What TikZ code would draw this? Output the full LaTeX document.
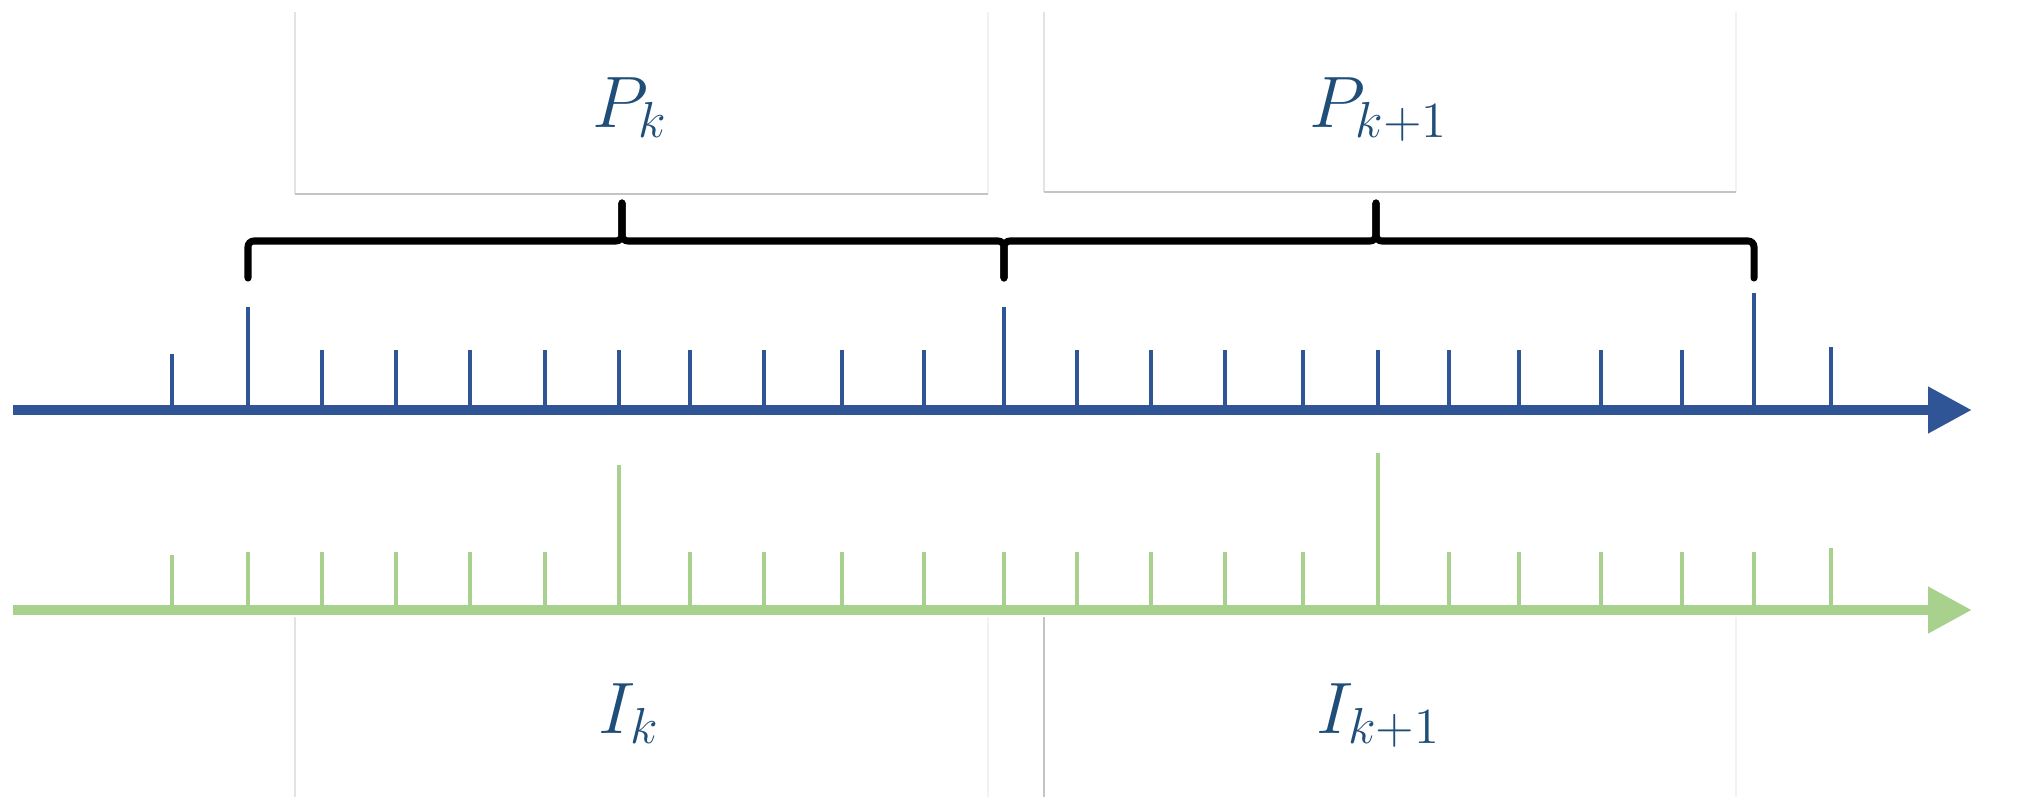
\documentclass[tikz,border=0pt]{standalone}
\usepackage{amsmath}
\usepackage{tikz}
\usetikzlibrary{arrows.meta}
\definecolor{axis-blue}{RGB}{47,85,151}
\definecolor{axis-green}{RGB}{169,209,142}
\definecolor{label-blue}{RGB}{31,78,121}
\definecolor{box-faint}{gray}{0.95}
\definecolor{box-side}{gray}{0.89}
\definecolor{box-base}{gray}{0.77}

\tikzset{
  axisline/.style={line width=3pt, -{Triangle[length=12.5pt,width=12.5pt]}},
  tickline/.style={line width=1.4pt},
  braceline/.style={line width=2pt, rounded corners=0.6mm, line cap=round},
  periodlabel/.style={text=label-blue, inner sep=0pt, anchor=base, font=\fontsize{20}{24}\selectfont}
}
% brace over one period: left end, tip, right end
\newcommand{\periodbrace}[3]{
  \draw[braceline] (#1,27.8) -- (#1,24.1) -- (#2,24.1) -- (#2,20.3);
  \draw[braceline] (#2,20.3) -- (#2,24.1) -- (#3,24.1) -- (#3,27.8);
}

\begin{document}
\begin{tikzpicture}[x=1mm, y=-1mm]
 \useasboundingbox (0,0) rectangle (201.8,80.8);
 %boxes
 \draw[box-side, line width=0.4pt] (29.5,1.2) -- (29.5,19.4);
 \draw[box-faint, line width=0.4pt] (98.8,1.2) -- (98.8,19.4);
 \draw[box-side, line width=0.4pt] (104.4,1.2) -- (104.4,19.2);
 \draw[box-faint, line width=0.4pt] (173.6,1.2) -- (173.6,19.2);
 \draw[box-base, line width=0.6pt] (29.5,19.4) -- (98.8,19.4);
 \draw[box-base, line width=0.6pt] (104.4,19.2) -- (173.6,19.2);
 \draw[box-side, line width=0.4pt] (29.5,61.7) -- (29.5,79.7);
 \draw[box-faint, line width=0.4pt] (98.8,61.7) -- (98.8,79.7);
 \draw[box-base, line width=0.5pt] (104.4,61.7) -- (104.4,79.7);
 \draw[box-faint, line width=0.4pt] (173.6,61.7) -- (173.6,79.7);
 \node[periodlabel] (pk) at (63.0,12.7) {$P_k$};
 \node[periodlabel] (pk1) at (137.9,12.7) {$P_{k+1}$};
 \node[periodlabel] (ik) at (62.9,73.3) {$I_k$};
 \node[periodlabel] (ik1) at (137.9,73.3) {$I_{k+1}$};
 %braces
 \periodbrace{24.8}{62.2}{100.4}
 \periodbrace{100.4}{137.6}{175.4}
 %blue axis
 \foreach \x/\t in {17.2/35.4, 24.8/30.7, 32.2/35, 39.6/35, 47/35, 54.5/35, 61.9/35, 69/35, 76.4/35, 84.2/35, 92.4/35, 100.4/30.7, 107.7/35, 115.1/35, 122.5/35, 130.3/35, 137.8/35, 144.9/35, 151.9/35, 160.1/35, 168.2/35, 175.4/29.3, 183.1/34.7}
   \draw[axis-blue, tickline] (\x,41) -- (\x,\t);
 \draw[axis-blue, axisline] (1.3,41) -- (197.2,41);
 %green axis
 \foreach \x/\t in {17.2/55.5, 24.8/55.2, 32.2/55.2, 39.6/55.2, 47/55.2, 54.5/55.2, 61.9/46.5, 69/55.2, 76.4/55.2, 84.2/55.2, 92.4/55.2, 100.4/55.2, 107.7/55.2, 115.1/55.2, 122.5/55.2, 130.3/55.2, 137.8/45.3, 144.9/55.2, 151.9/55.2, 160.1/55.2, 168.2/55.2, 175.4/55.2, 183.1/54.8}
   \draw[axis-green, tickline] (\x,61) -- (\x,\t);
 \draw[axis-green, axisline] (1.3,61) -- (197.2,61);
\end{tikzpicture}
\end{document}
